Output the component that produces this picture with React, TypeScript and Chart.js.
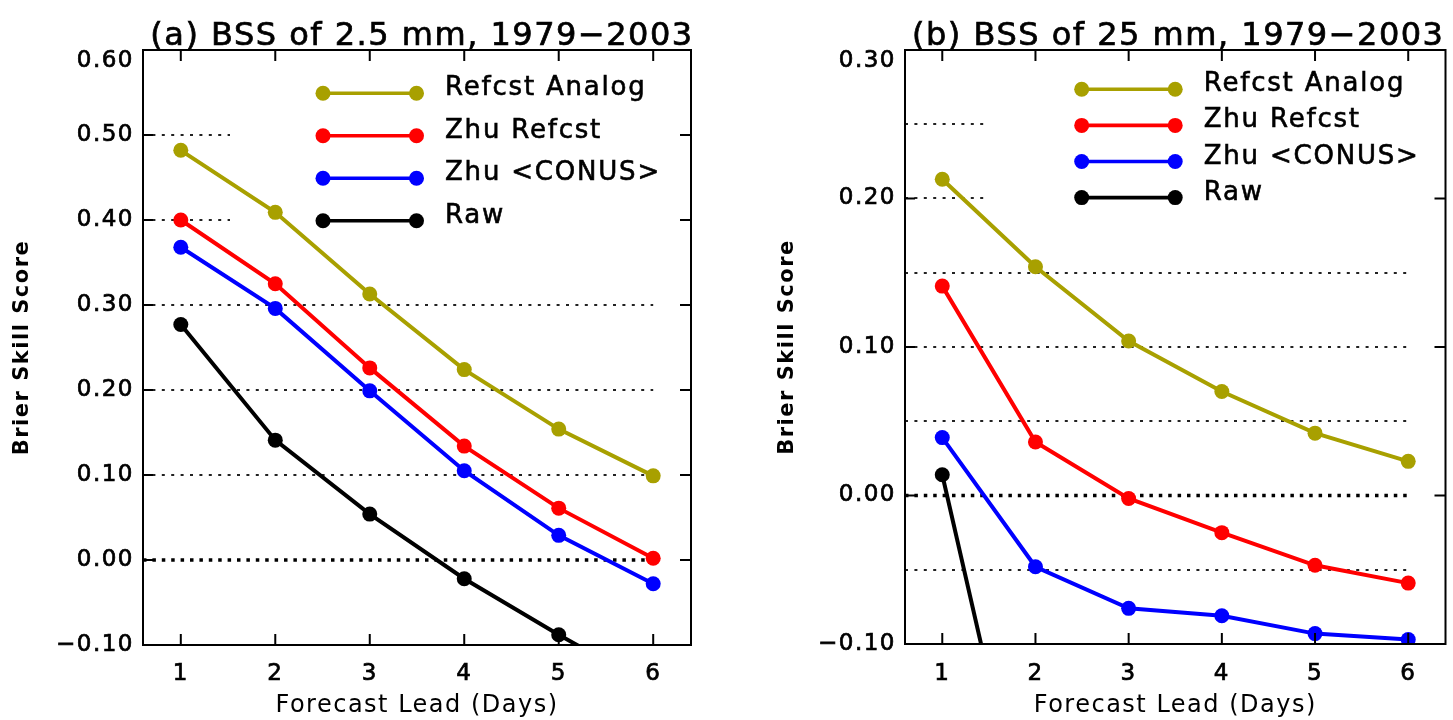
import React, { useEffect, useRef } from 'react';
import { Chart, registerables } from 'chart.js';

Chart.register(...registerables);

// ---------- data ----------
const leadDays = [1, 2, 3, 4, 5, 6];
const xTickLabels = ['1', '2', '3', '4', '5', '6'];
const seriesNames = ['Refcst Analog', 'Zhu Refcst', 'Zhu <CONUS>', 'Raw'];
const seriesColors = ['#a8a000', '#ff0000', '#0000ff', '#000000'];

// (a) BSS of 2.5 mm
const analogA = [0.482, 0.409, 0.313, 0.224, 0.154, 0.099];
const zhuRefcstA = [0.4, 0.325, 0.226, 0.134, 0.061, 0.002];
const zhuConusA = [0.368, 0.296, 0.199, 0.105, 0.029, -0.028];
const rawA = [0.277, 0.141, 0.054, -0.022, -0.088, -0.15];

// (b) BSS of 25 mm
const analogB = [0.213, 0.154, 0.104, 0.07, 0.042, 0.023];
const zhuRefcstB = [0.141, 0.036, -0.002, -0.025, -0.047, -0.059];
const zhuConusB = [0.039, -0.048, -0.076, -0.081, -0.093, -0.097];
const rawB: (number | null)[] = [0.014, -0.26, null, null, null, null];

const yTicksA = [-0.1, 0, 0.1, 0.2, 0.3, 0.4, 0.5, 0.6];
const yTicksB = [-0.1, 0, 0.1, 0.2, 0.3];
const gridA = [0.1, 0.2, 0.3, 0.4, 0.5];
const gridB = [-0.05, 0.05, 0.1, 0.15, 0.2, 0.25];

const titleA = '(a) BSS of 2.5 mm, 1979\u22122003';
const titleB = '(b) BSS of 25 mm, 1979\u22122003';
const yTitle = 'Brier Skill Score';
const xTitle = 'Forecast Lead (Days)';

const FONT = '"DejaVu Sans", "Noto Sans", sans-serif';

interface PanelSpec {
  title: string;
  series: (number | null)[][];
  yMin: number;
  yMax: number;
  yTicks: number[];
  grid: number[];
  axisWidth: number;
  padRight: number;
  xAxisHeight: number;
  xTickPad: number;
  yTitlePad: number;
  legendX: number;
  legendY0: number;
  legendDy: number;
  titleShift: number;
}

const fmt = (v: number) => v.toFixed(2).replace('-', '\u2212');

function makePlugin(p: PanelSpec) {
  return {
    id: 'panelDecor',
    beforeDraw(chart: any) {
      const ctx = chart.ctx;
      ctx.save();
      ctx.fillStyle = '#fff';
      ctx.fillRect(0, 0, chart.width, chart.height);
      ctx.restore();
      (ctx as any).letterSpacing = '1.5px';
    },
    beforeDatasetsDraw(chart: any) {
      const { ctx, chartArea: ca } = chart;
      const x = chart.scales.x;
      const y = chart.scales.y;
      const xEnd = x.getPixelForValue(6);
      ctx.save();
      ctx.strokeStyle = '#222';
      ctx.lineWidth = 2;
      ctx.setLineDash([3, 6.4]);
      for (const v of p.grid) {
        const py = Math.round(y.getPixelForValue(v));
        ctx.beginPath();
        ctx.moveTo(ca.left, py);
        ctx.lineTo(xEnd, py);
        ctx.stroke();
      }
      // zero line
      ctx.strokeStyle = '#000';
      ctx.lineWidth = 3.5;
      ctx.setLineDash([3.5, 5.9]);
      const pz = y.getPixelForValue(0);
      ctx.beginPath();
      ctx.moveTo(ca.left, pz);
      ctx.lineTo(xEnd, pz);
      ctx.stroke();
      ctx.setLineDash([]);
      // legend background box
      const bx = p.legendX - 93;
      const by = ca.top + 14;
      const bb = p.legendY0 + 3 * p.legendDy + 22;
      ctx.fillStyle = '#fff';
      ctx.fillRect(bx, by, ca.right - 2 - bx, bb - by);
      ctx.restore();
    },
    afterDatasetsDraw(chart: any) {
      const { ctx, chartArea: ca } = chart;
      const x = chart.scales.x;
      const y = chart.scales.y;
      ctx.save();
      ctx.setLineDash([]);
      ctx.strokeStyle = '#000';
      ctx.lineWidth = 2;
      ctx.strokeRect(ca.left, ca.top, ca.right - ca.left, ca.bottom - ca.top);
      ctx.beginPath();
      for (const d of leadDays) {
        const px = x.getPixelForValue(d);
        ctx.moveTo(px, ca.top);
        ctx.lineTo(px, ca.top + 11);
        ctx.moveTo(px, ca.bottom);
        ctx.lineTo(px, ca.bottom - 11);
      }
      for (const v of p.yTicks) {
        if (v <= p.yMin + 1e-9 || v >= p.yMax - 1e-9) continue;
        const py = y.getPixelForValue(v);
        ctx.moveTo(ca.left, py);
        ctx.lineTo(ca.left + 10, py);
        ctx.moveTo(ca.right, py);
        ctx.lineTo(ca.right - 11, py);
      }
      ctx.stroke();

      // legend
      const len = 93.5;
      seriesNames.forEach((name, i) => {
        const ly = p.legendY0 + i * p.legendDy;
        ctx.strokeStyle = seriesColors[i];
        ctx.fillStyle = seriesColors[i];
        ctx.lineWidth = 3.6;
        ctx.beginPath();
        ctx.moveTo(p.legendX, ly);
        ctx.lineTo(p.legendX + len, ly);
        ctx.stroke();
        for (const ex of [p.legendX, p.legendX + len]) {
          ctx.beginPath();
          ctx.arc(ex, ly, 7.5, 0, Math.PI * 2);
          ctx.fill();
        }
        ctx.fillStyle = '#000';
        ctx.strokeStyle = '#000';
        ctx.lineWidth = 0.6;
        ctx.font = `26px ${FONT}`;
        (ctx as any).letterSpacing = '1.8px';
        ctx.textAlign = 'left';
        ctx.textBaseline = 'alphabetic';
        ctx.strokeText(name, p.legendX + 122, ly + 2);
        ctx.fillText(name, p.legendX + 122, ly + 2);
      });

      // title
      ctx.fillStyle = '#000';
      ctx.strokeStyle = '#000';
      ctx.lineWidth = 0.7;
      ctx.font = `32px ${FONT}`;
      (ctx as any).letterSpacing = '1.5px';
      ctx.textAlign = 'center';
      ctx.textBaseline = 'alphabetic';
      const tx = (ca.left + ca.right) / 2 + p.titleShift;
      ctx.strokeText(p.title, tx, 45);
      ctx.fillText(p.title, tx, 45);
      ctx.restore();
    },
  };
}

function buildConfig(p: PanelSpec): any {
  return {
    type: 'line',
    data: {
      datasets: p.series.map((vals, i) => ({
        label: seriesNames[i],
        data: leadDays.map((d, j) => ({ x: d, y: vals[j] })),
        borderColor: seriesColors[i],
        backgroundColor: seriesColors[i],
        borderWidth: 4,
        pointRadius: 7.5,
        pointBorderWidth: 0,
        pointHoverRadius: 7.5,
        tension: 0,
        clip: 0,
        spanGaps: false,
      })),
    },
    options: {
      animation: false,
      responsive: false,
      devicePixelRatio: 1,
      events: [],
      layout: { padding: { top: 50, right: p.padRight, left: 0, bottom: 0 } },
      plugins: {
        legend: { display: false },
        tooltip: { enabled: false },
        title: { display: false },
      },
      scales: {
        x: {
          type: 'linear',
          min: 0.6,
          max: 6.4,
          grid: { display: false, drawTicks: false },
          border: { display: false },
          afterBuildTicks: (s: any) => {
            s.ticks = leadDays.map((v) => ({ value: v }));
          },
          afterFit: (s: any) => {
            s.height = p.xAxisHeight;
          },
          ticks: {
            autoSkip: false,
            maxRotation: 0,
            padding: p.xTickPad,
            color: '#000',
            textStrokeColor: '#000',
            textStrokeWidth: 0.7,
            font: { family: FONT, size: 23 },
            callback: (v: number) => {
              const idx = leadDays.indexOf(v);
              return idx >= 0 ? xTickLabels[idx] : '';
            },
          },
          title: {
            display: true,
            text: xTitle,
            color: '#000',
            font: { family: FONT, size: 24 },
            padding: { top: 3, bottom: 0 },
          },
        },
        y: {
          type: 'linear',
          min: p.yMin,
          max: p.yMax,
          grid: { display: false, drawTicks: false },
          border: { display: false },
          afterBuildTicks: (s: any) => {
            s.ticks = p.yTicks.map((v) => ({ value: v }));
          },
          afterFit: (s: any) => {
            s.width = p.axisWidth;
          },
          ticks: {
            padding: 9,
            color: '#000',
            textStrokeColor: '#000',
            textStrokeWidth: 0.7,
            font: { family: FONT, size: 23, lineHeight: 1 },
            callback: (v: number) => {
              if (Math.abs(v - p.yMax) < 1e-9) return ['', fmt(v)];
              return fmt(v);
            },
          },
          title: {
            display: true,
            text: yTitle,
            color: '#000',
            font: { family: FONT, size: 21, weight: 'bold' },
            padding: { top: p.yTitlePad, bottom: 0 },
          },
        },
      },
    },
    plugins: [makePlugin(p)],
  };
}

const panelA: PanelSpec = {
  title: titleA,
  series: [analogA, zhuRefcstA, zhuConusA, rawA],
  yMin: -0.1,
  yMax: 0.6,
  yTicks: yTicksA,
  grid: gridA,
  axisWidth: 143,
  padRight: 35,
  xAxisHeight: 75,
  xTickPad: 15,
  yTitlePad: 10,
  legendX: 323,
  legendY0: 93.3,
  legendDy: 42.5,
  titleShift: 5,
};

const panelB: PanelSpec = {
  title: titleB,
  series: [analogB, zhuRefcstB, zhuConusB, rawB],
  yMin: -0.1,
  yMax: 0.3,
  yTicks: yTicksB,
  grid: gridB,
  axisWidth: 179,
  padRight: 1,
  xAxisHeight: 76,
  xTickPad: 16,
  yTitlePad: 49,
  legendX: 355.7,
  legendY0: 89.3,
  legendDy: 36.1,
  titleShift: 3,
};

function Panel({ spec, left, width }: { spec: PanelSpec; left: number; width: number }) {
  const ref = useRef<HTMLCanvasElement | null>(null);
  useEffect(() => {
    if (!ref.current) return;
    const chart = new Chart(ref.current, buildConfig(spec));
    return () => chart.destroy();
  }, [spec]);
  return (
    <canvas
      ref={ref}
      width={width}
      height={720}
      style={{ position: 'absolute', left, top: 0, width, height: 720, display: 'block' }}
    />
  );
}

export default function App() {
  return (
    <div
      style={{
        position: 'fixed',
        left: 0,
        top: 0,
        width: 1453,
        height: 720,
        background: '#fff',
        overflow: 'hidden',
      }}
    >
      <Panel spec={panelA} left={0} width={726} />
      <Panel spec={panelB} left={726} width={727} />
    </div>
  );
}
